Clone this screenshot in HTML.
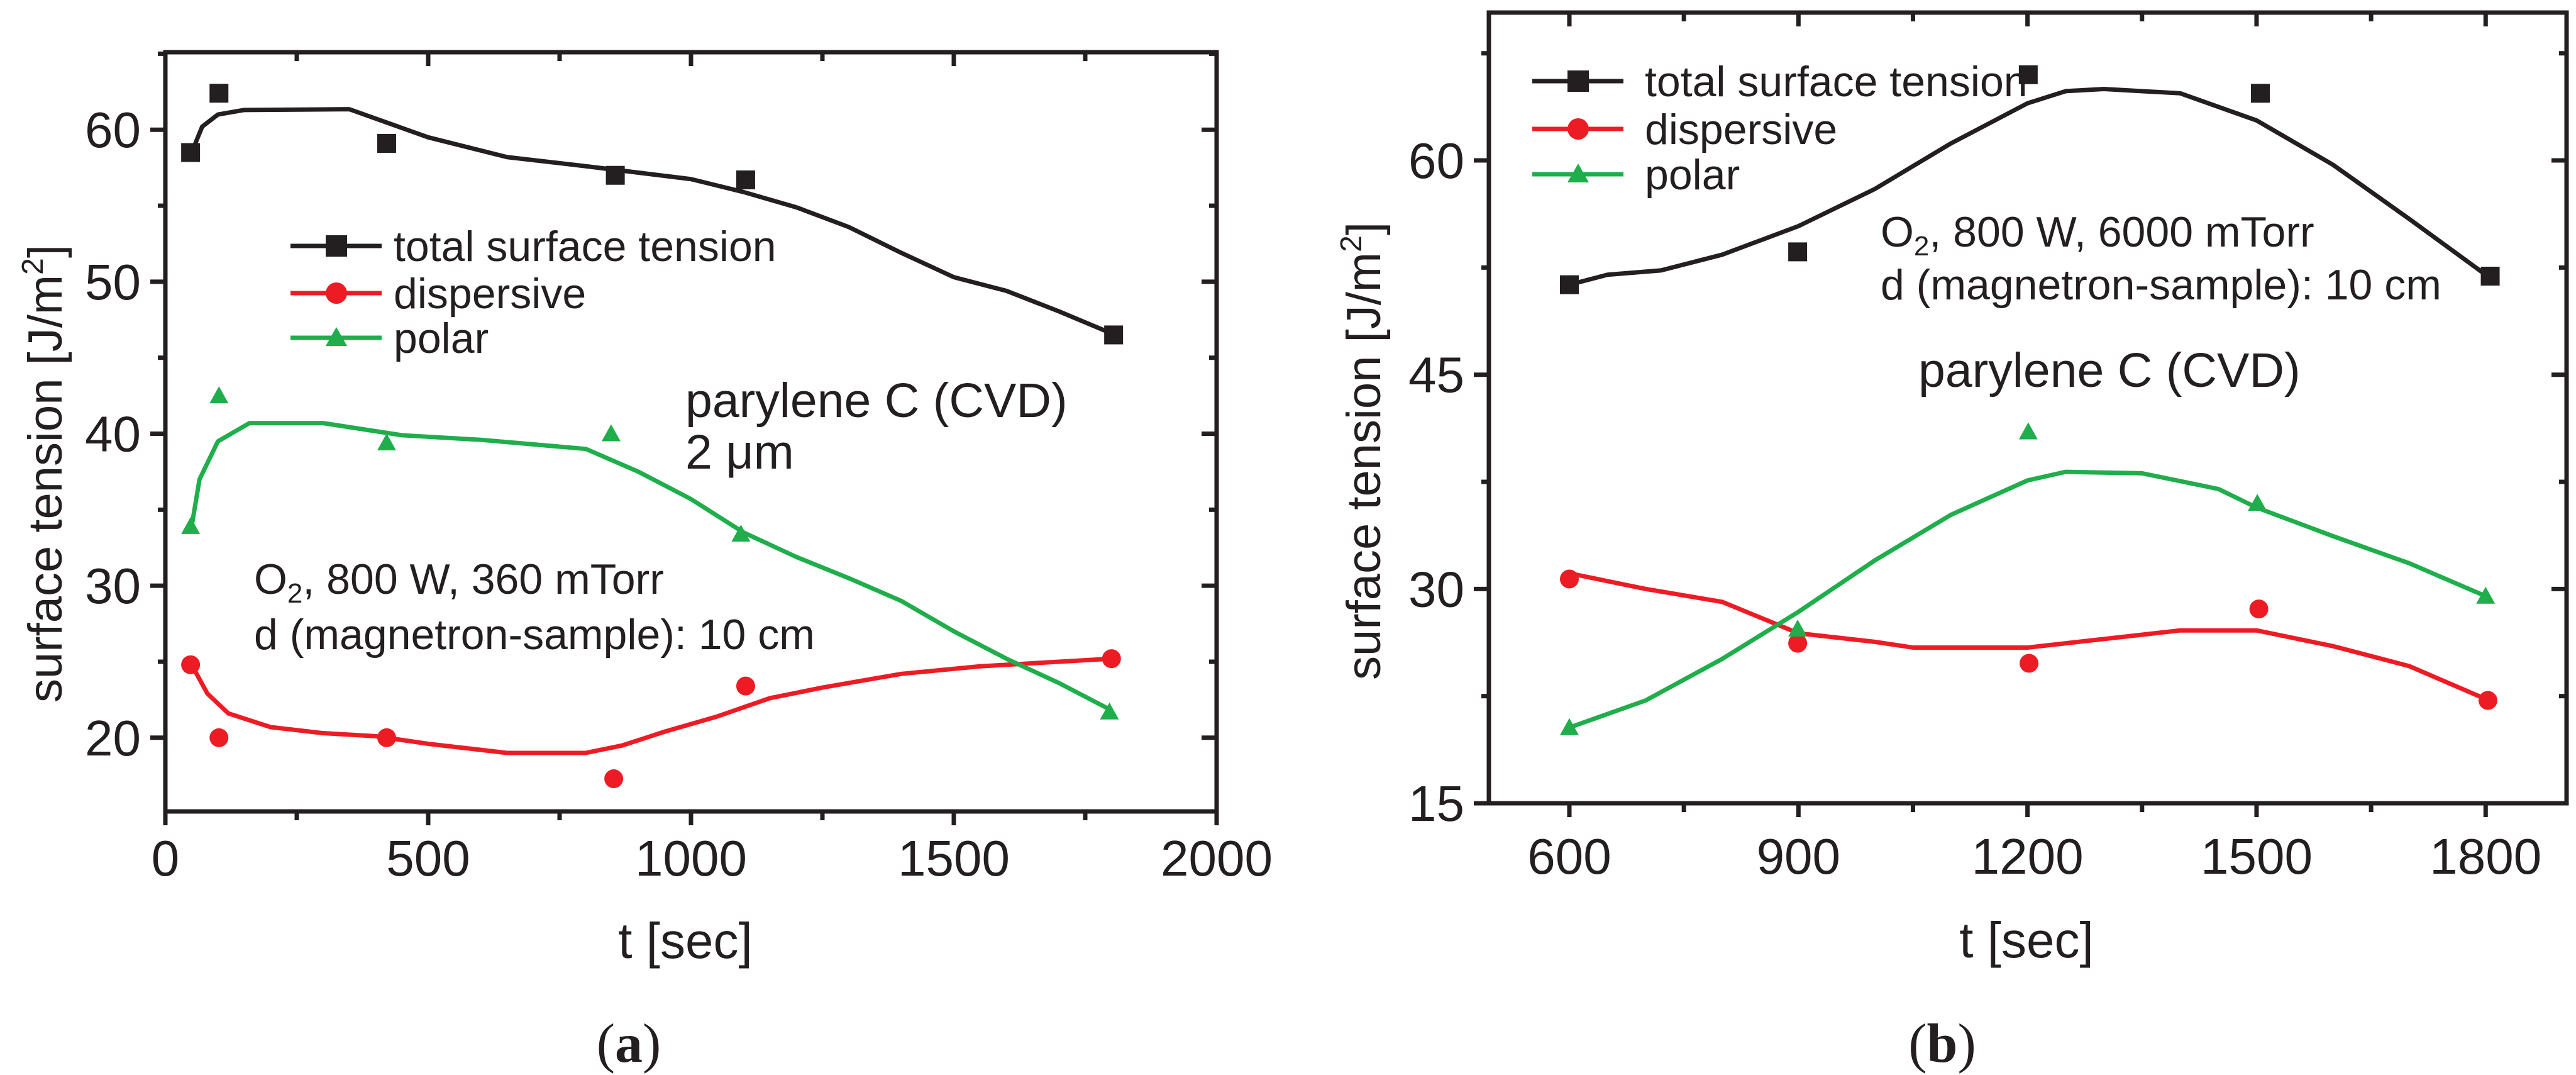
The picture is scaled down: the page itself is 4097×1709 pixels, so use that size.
<!DOCTYPE html>
<html><head><meta charset="utf-8">
<style>
html,body{margin:0;padding:0;background:#fff;}
svg{display:block;}
text{font-family:"Liberation Sans",sans-serif;fill:#231f20;}
</style></head>
<body>
<svg id="fig" width="4097" height="1709" viewBox="0 0 4097 1709" xmlns="http://www.w3.org/2000/svg">
<g id="pa"></g>
<g id="pb"></g>
</svg>
<script>
// ---------- Panel A data ----------
const aTotalX = [48,102,421,856,1104,1804];
const aTotalY = [58.5,62.4,59.1,57.0,56.7,46.5];
const aDispX = [48,102,421,853,1104,1800];
const aDispY = [24.8,20.0,20.0,17.3,23.4,25.2];
const aPolarX = [48,102,421,848,1095,1796];
const aPolarY = [33.9,42.5,39.4,40.0,33.4,21.7];
const aTotalFitX = [50,70,100,150,350,500,650,800,1000,1100,1200,1300,1400,1500,1600,1700,1800];
const aTotalFitY = [58.5,60.2,61.0,61.3,61.35,59.5,58.2,57.6,56.75,55.9,54.9,53.6,51.9,50.3,49.4,48.05,46.6];
const aDispFitX = [50,80,120,200,300,400,500,650,800,870,950,1050,1150,1250,1400,1550,1700,1800];
const aDispFitY = [24.8,22.9,21.6,20.7,20.3,20.1,19.6,19.0,19.0,19.5,20.4,21.4,22.6,23.3,24.2,24.7,25.0,25.2];
const aPolarFitX = [50,65,100,160,300,450,600,800,900,1000,1100,1200,1300,1400,1500,1600,1700,1800];
const aPolarFitY = [33.9,37,39.5,40.7,40.7,39.9,39.6,39.0,37.5,35.7,33.5,31.9,30.5,29,27,25.2,23.6,21.8];
const aXTicks = [0,500,1000,1500,2000];
const aYTicks = [20,30,40,50,60];
// ---------- Panel B data ----------
const bTotalX = [600,899,1201,1505,1806];
const bTotalY = [51.3,53.6,66.0,64.7,51.9];
const bDispX = [600,899,1202,1503,1803];
const bDispY = [30.7,26.2,24.8,28.6,22.2];
const bPolarX = [600,899,1201,1501,1800];
const bPolarY = [20.3,27.2,41.0,36.0,29.5];
const bTotalFitX = [600,650,720,800,900,1000,1100,1200,1250,1300,1400,1500,1600,1700,1800];
const bTotalFitY = [51.3,52.0,52.3,53.4,55.4,58.0,61.2,64.0,64.85,65.0,64.7,62.8,59.7,55.9,52.0];
const bDispFitX = [600,700,800,900,1000,1050,1200,1300,1400,1500,1600,1700,1800];
const bDispFitY = [31.1,30.0,29.1,26.9,26.3,25.9,25.9,26.5,27.1,27.1,26.0,24.6,22.3];
const bPolarFitX = [600,700,800,900,1000,1100,1200,1250,1350,1450,1500,1600,1700,1800];
const bPolarFitY = [20.3,22.2,25.1,28.4,32.0,35.2,37.6,38.2,38.1,37.0,35.7,33.7,31.8,29.5];
const bXTicks = [600,900,1200,1500,1800];
const bYTicks = [15,30,45,60];

const NS="http://www.w3.org/2000/svg";
const BLK="#231f20", RED="#ed1c24", GRN="#1fae4b";
function mk(parent, tag, attrs){const e=document.createElementNS(NS,tag);for(const k in attrs)e.setAttribute(k,attrs[k]);parent.appendChild(e);return e;}

function panel(g, cfg){
  const sx=v=>cfg.x0+(v-cfg.xmin)/(cfg.xmax-cfg.xmin)*(cfg.x1-cfg.x0);
  const sy=v=>cfg.y1-(v-cfg.ymin)/(cfg.ymax-cfg.ymin)*(cfg.y1-cfg.y0);
  // ticks
  for(let v=cfg.xmin0; v<=cfg.xmax+1e-6; v+=cfg.xminor){
    const major=Math.abs(((v-cfg.xmajor0)/cfg.xmajor)-Math.round((v-cfg.xmajor0)/cfg.xmajor))<1e-6;
    const len=major?22:14, x=sx(v);
    if(x<cfg.x0-1||x>cfg.x1+1) continue;
    const t=mk(g,'line',{x1:x,y1:cfg.y1,x2:x,y2:cfg.y1+len,stroke:BLK,'stroke-width':7});
    
    
    const t2=mk(g,'line',{x1:x,y1:cfg.y0,x2:x,y2:cfg.y0+len,stroke:BLK,'stroke-width':7});
    
    
  }
  for(let v=cfg.ymin0; v<=cfg.ymax+1e-6; v+=cfg.yminor){
    const major=Math.abs(((v-cfg.ymajor0)/cfg.ymajor)-Math.round((v-cfg.ymajor0)/cfg.ymajor))<1e-6;
    const len=major?24:12, y=sy(v);
    if(y<cfg.y0-1||y>cfg.y1+1) continue;
    const t=mk(g,'line',{x1:cfg.x0-len,y1:y,x2:cfg.x0,y2:y,stroke:BLK,'stroke-width':7});
    
    
    const t2=mk(g,'line',{x1:cfg.x1-len,y1:y,x2:cfg.x1,y2:y,stroke:BLK,'stroke-width':7});
    
    
  }
  cfg.xticks.forEach(v=>{
    const t=mk(g,'text',{x:sx(v),y:cfg.xlabY,'font-size':80,'text-anchor':'middle'});
    t.textContent=v;
    
    
  });
  cfg.yticks.forEach(v=>{
    const t=mk(g,'text',{x:cfg.ylabX,y:sy(v)+28,'font-size':80,'text-anchor':'end'});
    t.textContent=v;
    
    
  });
  // series
  cfg.series.forEach(s=>{
    const pts=s.fx.map((x,i)=>sx(x)+','+sy(s.fy[i])).join(' ');
    const pl=mk(g,'polyline',{points:pts,fill:'none',stroke:s.color,'stroke-width':7,'stroke-linejoin':'round'});
    
    
    s.x.forEach((x,i)=>{
      const cx=sx(x), cy=sy(s.y[i]); let m;
      if(s.shape==='sq') m=mk(g,'rect',{x:cx-15,y:cy-15,width:30,height:30,fill:s.color});
      else if(s.shape==='ci') m=mk(g,'circle',{cx:cx,cy:cy,r:15,fill:s.color});
      else m=mk(g,'polygon',{points:`${cx},${cy-15} ${cx+15},${cy+12} ${cx-15},${cy+12}`,fill:s.color});
      
      
    });
  });
  // frame
  const fr=mk(g,'rect',{x:cfg.x0,y:cfg.y0,width:cfg.x1-cfg.x0,height:cfg.y1-cfg.y0,fill:'none',stroke:BLK,'stroke-width':7});
  
  
}

function legend(g,x,ys,tx){
  const items=[['total surface tension',BLK,'sq'],['dispersive',RED,'ci'],['polar',GRN,'tr']];
  items.forEach((it,i)=>{
    const y=ys[i];
    const l=mk(g,'line',{x1:x,y1:y,x2:x+145,y2:y,stroke:it[1],'stroke-width':7});
    
    
    const cx=x+73; let m;
    if(it[2]==='sq') m=mk(g,'rect',{x:cx-17,y:y-17,width:34,height:34,fill:it[1]});
    else if(it[2]==='ci') m=mk(g,'circle',{cx:cx,cy:y,r:17,fill:it[1]});
    else m=mk(g,'polygon',{points:`${cx},${y-17} ${cx+17},${y+13} ${cx-17},${y+13}`,fill:it[1]});
    
    
    const t=mk(g,'text',{x:tx,y:y+24,'font-size':68});
    t.textContent=it[0];
    
    
  });
}

const pa=document.getElementById('pa'), pb=document.getElementById('pb');
panel(pa,{x0:263,x1:1935,y0:83,y1:1290,xmin:0,xmax:2000,ymin:15.15,ymax:65.1,
  xmin0:0,xminor:250,xmajor:500,xmajor0:0,ymin0:15,yminor:5,ymajor:10,ymajor0:20,
  xticks:aXTicks,yticks:aYTicks,xlabY:1392,ylabX:224,
  series:[{name:'total',x:aTotalX,y:aTotalY,fx:aTotalFitX,fy:aTotalFitY,color:BLK,shape:'sq'},
          {name:'dispersive',x:aDispX,y:aDispY,fx:aDispFitX,fy:aDispFitY,color:RED,shape:'ci'},
          {name:'polar',x:aPolarX,y:aPolarY,fx:aPolarFitX,fy:aPolarFitY,color:GRN,shape:'tr'}]});
panel(pb,{x0:2368,x1:4082,y0:20,y1:1277,xmin:494.6,xmax:1906,ymin:15,ymax:70.35,
  xmin0:600,xminor:150,xmajor:300,xmajor0:600,ymin0:15,yminor:7.5,ymajor:15,ymajor0:15,
  xticks:bXTicks,yticks:bYTicks,xlabY:1389,ylabX:2329,
  series:[{name:'total',x:bTotalX,y:bTotalY,fx:bTotalFitX,fy:bTotalFitY,color:BLK,shape:'sq'},
          {name:'dispersive',x:bDispX,y:bDispY,fx:bDispFitX,fy:bDispFitY,color:RED,shape:'ci'},
          {name:'polar',x:bPolarX,y:bPolarY,fx:bPolarFitX,fy:bPolarFitY,color:GRN,shape:'tr'}]});
legend(pa,462,[391,466,537],626);
legend(pb,2437,[129,205,277],2616);
</script>
<svg style="position:absolute;left:0;top:0" width="4097" height="1709">
<text x="1090" y="663" font-size="77" style="font-family:'Liberation Sans',sans-serif">parylene C (CVD)</text>
<text x="1090" y="745" font-size="77" style="font-family:'Liberation Sans',sans-serif">2 μm</text>
<text x="404" y="944" font-size="68" style="font-family:'Liberation Sans',sans-serif">O<tspan font-size="44" dy="14">2</tspan><tspan dy="-14">, 800 W, 360 mTorr</tspan></text>
<text x="404" y="1032" font-size="68" style="font-family:'Liberation Sans',sans-serif">d (magnetron-sample): 10 cm</text>
<text transform="translate(98,753) rotate(-90)" text-anchor="middle" font-size="76" style="font-family:'Liberation Sans',sans-serif">surface tension [J/m<tspan font-size="48" dy="-30">2</tspan><tspan dy="30">]</tspan></text>
<text x="1090" y="1523" text-anchor="middle" font-size="80" style="font-family:'Liberation Sans',sans-serif">t [sec]</text>
<text x="1000" y="1688" text-anchor="middle" font-size="88" style="font-family:'Liberation Serif',serif">(<tspan font-weight="bold">a</tspan>)</text>

<text x="2991" y="392" font-size="68" style="font-family:'Liberation Sans',sans-serif">O<tspan font-size="44" dy="14">2</tspan><tspan dy="-14">, 800 W, 6000 mTorr</tspan></text>
<text x="2991" y="476" font-size="68" style="font-family:'Liberation Sans',sans-serif">d (magnetron-sample): 10 cm</text>
<text x="3051" y="615" font-size="77" style="font-family:'Liberation Sans',sans-serif">parylene C (CVD)</text>
<text transform="translate(2195,717) rotate(-90)" text-anchor="middle" font-size="76" style="font-family:'Liberation Sans',sans-serif">surface tension [J/m<tspan font-size="48" dy="-30">2</tspan><tspan dy="30">]</tspan></text>
<text x="3223" y="1522" text-anchor="middle" font-size="80" style="font-family:'Liberation Sans',sans-serif">t [sec]</text>
<text x="3089" y="1688" text-anchor="middle" font-size="88" style="font-family:'Liberation Serif',serif">(<tspan font-weight="bold">b</tspan>)</text>
</svg>
</body></html>
